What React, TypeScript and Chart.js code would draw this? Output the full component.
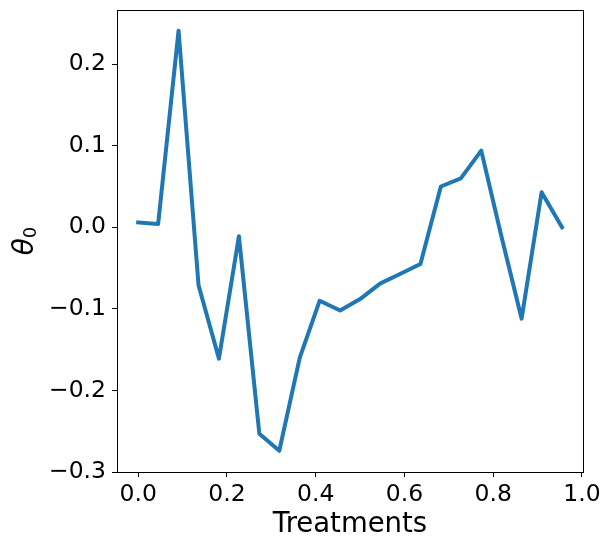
import React, { useEffect, useRef } from "react";
import { Chart, registerables } from "chart.js";

Chart.register(...registerables);

const treatments = [0, 0.045, 0.091, 0.136, 0.182, 0.227, 0.273, 0.318, 0.364, 0.409, 0.455, 0.5, 0.545, 0.591, 0.636, 0.682, 0.727, 0.773, 0.818, 0.864, 0.909, 0.955];
const theta0 = [0.006, 0.004, 0.241, -0.071, -0.161, -0.011, -0.253, -0.274, -0.160, -0.090, -0.102, -0.088, -0.069, -0.057, -0.045, 0.050, 0.060, 0.094, -0.010, -0.112, 0.043, 0.0];
const xTicks = [0, 0.2, 0.4, 0.6, 0.8, 1.0];
const yTicks = [-0.3, -0.2, -0.1, 0.0, 0.1, 0.2];

const FONT = "'DejaVu Sans', sans-serif";

const framePlugin = {
  id: "frame",
  afterDraw(chart: any) {
    const { ctx, chartArea } = chart;
    ctx.save();
    ctx.strokeStyle = "#000";
    ctx.lineWidth = 1;
    ctx.strokeRect(Math.round(chartArea.left) + 0.5, Math.round(chartArea.top) + 0.5, Math.round(chartArea.right - chartArea.left), Math.round(chartArea.bottom - chartArea.top));
    // y-axis label: italic theta with subscript 0
    const cx = 33;
    const cy = (chartArea.top + chartArea.bottom) / 2;
    ctx.translate(cx, cy);
    ctx.rotate(-Math.PI / 2);
    ctx.fillStyle = "#000";
    ctx.textBaseline = "alphabetic";
    ctx.font = `italic 28px ${FONT}`;
    const w1 = ctx.measureText("θ").width;
    ctx.font = `18px ${FONT}`;
    const w2 = ctx.measureText("0").width;
    const total = w1 + w2;
    ctx.font = `italic 28px ${FONT}`;
    ctx.textAlign = "left";
    ctx.fillText("θ", -total / 2, 0);
    ctx.font = `18px ${FONT}`;
    ctx.fillText("0", -total / 2 + w1, 3);
    ctx.restore();
  },
};

const fmt = (v: number) => {
  const s = Math.abs(v).toFixed(1);
  return v < -1e-9 ? "\u2212" + s : s;
};

export default function App() {
  const ref = useRef<HTMLCanvasElement>(null);
  useEffect(() => {
    const canvas = ref.current!;
    const chart = new Chart(canvas, {
      type: "line",
      data: {
        datasets: [
          {
            data: treatments.map((x, i) => ({ x, y: theta0[i] })),
            borderColor: "#1f77b4",
            borderWidth: 4,
            pointRadius: 0,
            tension: 0,
            fill: false,
            borderJoinStyle: "round",
            borderCapStyle: "square",
          },
        ],
      },
      options: {
        animation: false,
        responsive: false,
        maintainAspectRatio: false,
        events: [],
        layout: { padding: { left: 0, top: 10, right: 27, bottom: 0 } },
        plugins: { legend: { display: false }, tooltip: { enabled: false } },
        scales: {
          x: {
            type: "linear",
            min: -0.0477,
            max: 1.0023,
            afterBuildTicks: (s: any) => {
              s.ticks = xTicks.map((v) => ({ value: v }));
            },
            afterFit: (s: any) => {
              s.height = 77;
              s.paddingLeft = 0;
              s.paddingRight = 0;
            },
            grid: { display: true, drawOnChartArea: false, drawTicks: true, tickLength: 5, color: "#000", tickColor: "#000" },
            border: { display: true, color: "#000", width: 1 },
            ticks: { color: "#000", font: { family: FONT, size: 23.5 }, padding: 4, maxRotation: 0, callback: (v: any) => fmt(Number(v)) },
            title: { display: true, text: "Treatments", color: "#000", font: { family: FONT, size: 27.5 }, padding: { top: 0, bottom: 8 } },
          },
          y: {
            type: "linear",
            min: -0.3,
            max: 0.2664,
            afterBuildTicks: (s: any) => {
              s.ticks = yTicks.map((v) => ({ value: v }));
            },
            afterFit: (s: any) => {
              s.width = 117;
              s.paddingTop = 0;
              s.paddingBottom = 0;
            },
            grid: { display: true, drawOnChartArea: false, drawTicks: true, tickLength: 5, color: "#000", tickColor: "#000" },
            border: { display: true, color: "#000", width: 1 },
            ticks: { color: "#000", font: { family: FONT, size: 23.5 }, padding: 6, callback: (v: any) => fmt(Number(v)) },
          },
        },
      },
      plugins: [framePlugin],
    } as any);
    return () => chart.destroy();
  }, []);
  return (
    <div style={{ position: "fixed", left: 0, top: 0, width: 610, height: 549, background: "#fff" }}>
      <canvas ref={ref} width={610} height={549} style={{ width: 610, height: 549, display: "block" }} />
    </div>
  );
}
